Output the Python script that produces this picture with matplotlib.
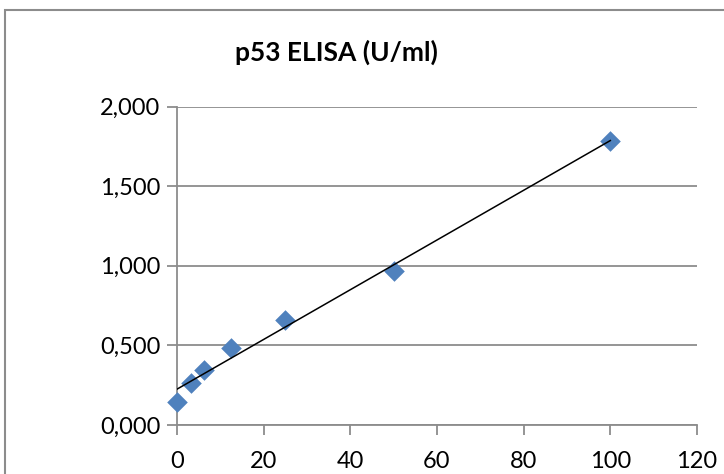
import matplotlib
matplotlib.use("Agg")
import matplotlib.pyplot as plt
import numpy as np
from matplotlib.patches import Rectangle
from matplotlib.ticker import FuncFormatter

# p53 standard curve (U/ml vs OD)
conc = [0, 3.125, 6.25, 12.5, 25, 50, 100]
od = [0.145, 0.265, 0.345, 0.484, 0.657, 0.967, 1.786]

x_ticks = [0, 20, 40, 60, 80, 100, 120]
y_ticks = [0.0, 0.5, 1.0, 1.5, 2.0]

plt.rcParams['font.family'] = ['Lato', 'DejaVu Sans']

fig = plt.figure(figsize=(7.24, 4.74), dpi=100)
ax = fig.add_axes([177/724, 1 - 425/474, 520/724, 318.5/474])

# chart frame (cut off right and bottom like the screenshot)
fig.patches.append(Rectangle((5/724, -0.2), 2.0, 1.2 - 10/474, transform=fig.transFigure,
                             fill=False, edgecolor='#8c8c8c', linewidth=1.5))

ax.scatter(conc, od, marker='D', s=110, color='#4F81BD', zorder=3, linewidths=0, clip_on=False)

# linear trend line
k, b = np.polyfit(conc, od, 1)
xx = np.array([min(conc), max(conc)])
ax.plot(xx, k*xx + b, color='black', lw=1.1, zorder=4)

ax.set_xlim(0, 120)
ax.set_ylim(0, 2.0)
ax.set_xticks(x_ticks)
ax.set_yticks(y_ticks)
ax.yaxis.set_major_formatter(FuncFormatter(lambda v, p: ('%.3f' % v).replace('.', ',')))
ax.grid(axis='y', color='#8c8c8c', lw=1.3)
ax.set_axisbelow(True)
for s in ['top', 'right']:
    ax.spines[s].set_visible(False)
for s in ['left', 'bottom']:
    ax.spines[s].set_color('#8c8c8c')
    ax.spines[s].set_linewidth(1.3)
ax.tick_params(axis='both', direction='out', length=7, width=1.3, color='#8c8c8c',
               labelsize=17, labelcolor='black')
ax.tick_params(axis='y', pad=5)
ax.tick_params(axis='x', pad=12)

fig.text(336/724, 1 - 52/474, 'p53 ELISA (U/ml)', ha='center', va='center',
         fontsize=19, fontweight='bold')

fig.savefig('out.png', dpi=100)
